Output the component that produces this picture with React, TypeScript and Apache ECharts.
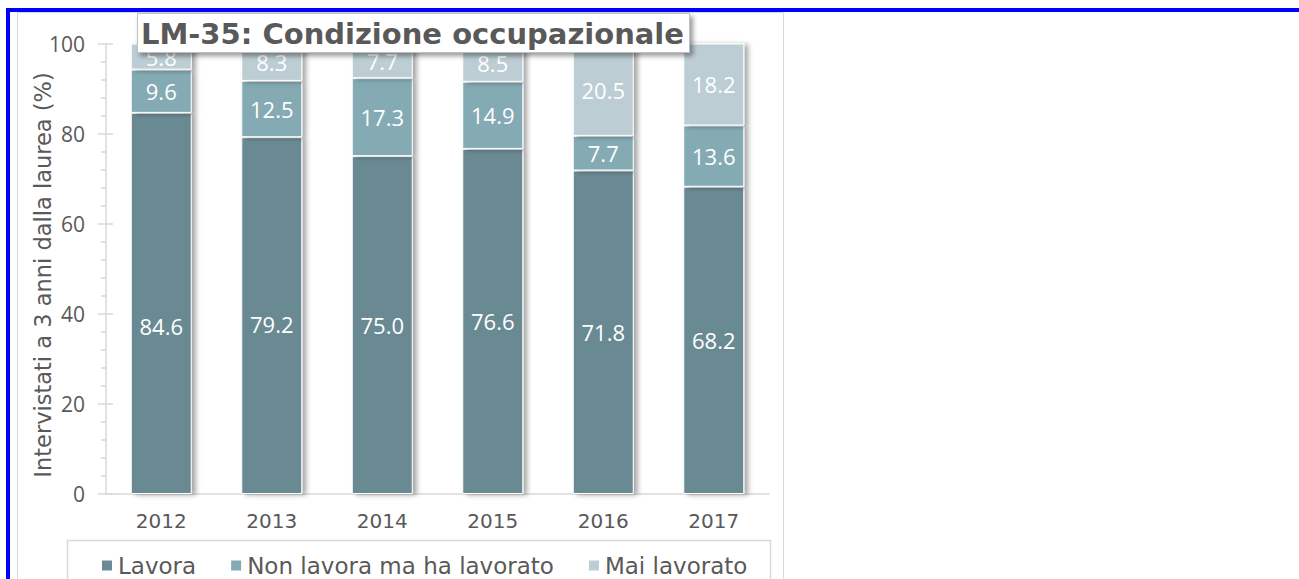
import React, { useEffect, useRef } from "react";
import * as echarts from "echarts";

const years = ["2012", "2013", "2014", "2015", "2016", "2017"];
const lavora = [84.6, 79.2, 75.0, 76.6, 71.8, 68.2];
const nonLavora = [9.6, 12.5, 17.3, 14.9, 7.7, 13.6];
const maiLavorato = [5.8, 8.3, 7.7, 8.5, 20.5, 18.2];
const seriesNames = ["Lavora", "Non lavora ma ha lavorato", "Mai lavorato"];
const colors = ["#6b8a93", "#84aab4", "#bccdd4"];
const titleText = "LM-35: Condizione occupazionale";
const yAxisName = "Intervistati a 3 anni dalla laurea (%)";
// label nudges (px) applied to the "Lavora" labels, as placed in the original
const lavoraLabelNudge = [23, 8, 0, 0, 0, 0];

const FONT = "'DejaVu Sans', sans-serif";
const LABEL_FONT = "'Open Sans', sans-serif";
const GREY_TEXT = "#595959";
const LINE = "#d9d9d9";

export default function App() {
  const ref = useRef<HTMLDivElement>(null);

  useEffect(() => {
    if (!ref.current) return;
    const chart = echarts.init(ref.current, undefined, { renderer: "svg" });
    const datasets = [lavora, nonLavora, maiLavorato];
    const series = datasets.map((d, i) => ({
      name: seriesNames[i],
      type: "bar",
      stack: "tot",
      barWidth: 61,
      data: d.map((v, j) =>
        i === 0 && lavoraLabelNudge[j]
          ? { value: v, label: { offset: [0, lavoraLabelNudge[j]] } }
          : v
      ),
      itemStyle: {
        color: colors[i],
        borderColor: "#ffffff",
        borderWidth: 1,
        shadowColor: "rgba(0,0,0,0.35)",
        shadowBlur: 5,
        shadowOffsetX: 4,
        shadowOffsetY: 1,
      },
      label: {
        show: true,
        position: "inside",
        color: "#ffffff",
        fontFamily: LABEL_FONT,
        fontSize: 22,
        formatter: (p: any) => Number(p.value).toFixed(1),
      },
    }));

    chart.setOption({
      animation: false,
      textStyle: { fontFamily: FONT },
      grid: { left: 106, right: 530, top: 43.5, bottom: 85 },
      legend: {
        data: seriesNames,
        left: 95,
        top: 549,
        icon: "rect",
        itemWidth: 12,
        itemHeight: 12,
        itemGap: 33,
        textStyle: { color: GREY_TEXT, fontSize: 23, fontFamily: FONT },
      },
      xAxis: {
        type: "category",
        data: years,
        axisLine: { show: true, lineStyle: { color: LINE, width: 1.5 } },
        axisTick: { show: false },
        axisLabel: {
          color: GREY_TEXT,
          fontSize: 20,
          margin: 17,
          fontFamily: FONT,
        },
      },
      yAxis: [
        {
          type: "value",
          min: 0,
          max: 100,
          interval: 20,
          axisLine: { show: true, lineStyle: { color: LINE, width: 1.5 } },
          axisTick: { show: true, length: 8, lineStyle: { color: LINE, width: 1.5 } },
          minorTick: { show: true, splitNumber: 5, length: 5, lineStyle: { color: LINE, width: 1.5 } },
          splitLine: { show: false },
          axisLabel: { color: GREY_TEXT, fontSize: 21, margin: 21, fontFamily: LABEL_FONT },
        },
        {
          type: "value",
          position: "left",
          min: 0,
          max: 100,
          interval: 20,
          axisLine: { show: false },
          axisTick: { show: true, inside: true, length: 7, lineStyle: { color: LINE, width: 1.5 } },
          axisLabel: { show: false },
          splitLine: { show: false },
        },
      ],
      graphic: [
        {
          type: "rect",
          z: -10,
          shape: { x: 17.5, y: 12.5, width: 766, height: 700 },
          style: { fill: "#ffffff", stroke: LINE, lineWidth: 1 },
        },
        {
          type: "rect",
          z: -5,
          shape: { x: 67.5, y: 540.5, width: 703, height: 100 },
          style: { fill: "none", stroke: LINE, lineWidth: 1.5 },
        },
        {
          type: "text",
          x: 43,
          y: 275,
          rotation: Math.PI / 2,
          style: {
            text: yAxisName,
            fill: GREY_TEXT,
            font: "22.5px 'DejaVu Sans', sans-serif",
            align: "center",
            verticalAlign: "middle",
          },
        },
        {
          type: "group",
          z: 100,
          children: [
            {
              type: "rect",
              z: 100,
              shape: { x: 137.5, y: 13.5, width: 552, height: 39 },
              style: {
                fill: "#ffffff",
                stroke: "#bfbfbf",
                lineWidth: 1,
                shadowColor: "rgba(0,0,0,0.4)",
                shadowBlur: 5,
                shadowOffsetX: 3,
                shadowOffsetY: 3,
              },
            },
            {
              type: "text",
              z: 101,
              x: 141,
              y: 34,
              style: {
                text: titleText,
                fill: GREY_TEXT,
                font: "bold 29px 'DejaVu Sans', sans-serif",
                verticalAlign: "middle",
                align: "left",
              },
            },
          ],
        },
      ],
      series,
    });
    return () => chart.dispose();
  }, []);

  return (
    <div style={{ position: "fixed", left: 0, top: 0, width: 1299, height: 579, overflow: "hidden", background: "#fff" }}>
      <div
        style={{
          position: "absolute",
          left: 6,
          top: 8,
          width: 2000,
          height: 2000,
          border: "4px solid #0000ff",
        }}
      />
      <div ref={ref} style={{ position: "absolute", left: 0, top: 0, width: 1299, height: 579 }} />
    </div>
  );
}
